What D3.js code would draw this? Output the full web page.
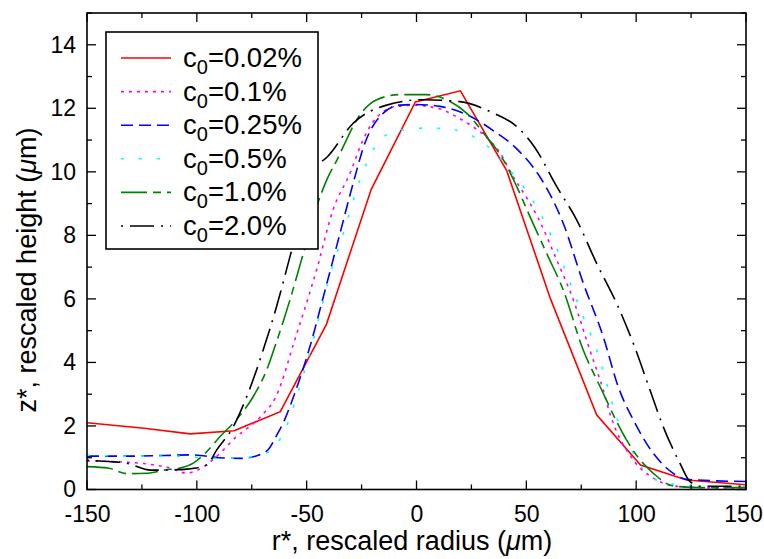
<!DOCTYPE html>
<html><head><meta charset="utf-8">
<script src="https://cdn.jsdelivr.net/npm/d3@7"></script>
<style>
html,body{margin:0;padding:0;background:#fff;}
svg{display:block;font-family:"Liberation Sans",Arial,Helvetica,sans-serif;}
</style></head>
<body><svg id="chart" width="764" height="559"></svg>
<script>
// ---- data ----
const seriesLabels = ["0.02%", "0.1%", "0.25%", "0.5%", "1.0%", "2.0%"];
const seriesColors = ["#ff0000", "#ff00ff", "#0000ff", "#00ffff", "#008000", "#000000"];
const seriesDash = ["none", "3,5", "12,6", "3,15", "26,6,8,6", "2,7,24,7"];

const r002 = [-150, -124, -103, -83, -62, -41, -20.6, -0.5, 20, 41, 61, 82, 102, 123, 150];
const z002 = [2.1, 1.93, 1.75, 1.85, 2.45, 5.2, 9.45, 12.2, 12.55, 10.05, 6.0, 2.35, 0.77, 0.3, 0.15];

const r01 = [-150, -130, -120, -112, -105, -100, -92, -82, -71, -64, -55, -45.5, -38, -30, -25, -20, -15, -10, 0, 5, 12, 18, 25, 30, 38, 44, 50, 55, 63.8, 71.4, 78.9, 85, 88, 98.7, 109.3, 120, 135, 150];
const z01 = [0.9, 0.85, 0.78, 0.67, 0.52, 0.6, 0.98, 1.66, 2.29, 2.92, 4.8, 6.91, 8.8, 10.0, 10.9, 11.55, 11.9, 12.05, 12.1, 12.06, 11.95, 11.74, 11.45, 11.2, 10.6, 9.85, 9.2, 8.6, 7.23, 5.97, 4.39, 3.13, 2.4, 0.93, 0.3, 0.09, 0.05, 0.05];

const r025 = [-150, -132, -115, -102, -90, -80, -72, -67, -64, -60, -56, -48.5, -42.4, -34.8, -29, -23.5, -15.1, -7.5, 0, 10.7, 21.3, 34.9, 46, 57, 66.8, 75.9, 85, 92, 98.7, 107.8, 116.9, 123, 150];
const z025 = [1.05, 1.05, 1.07, 1.09, 1.0, 0.98, 1.08, 1.3, 1.66, 2.2, 2.92, 4.5, 6.07, 8.07, 9.6, 10.9, 11.85, 12.1, 12.12, 12.06, 11.85, 11.3, 10.7, 9.75, 8.38, 6.5, 4.81, 3.2, 2.19, 1.14, 0.51, 0.32, 0.25];

const r05 = [-150, -130, -110, -91, -80, -70, -62, -58, -54.6, -47, -40, -33.3, -25.7, -19.7, -12.1, -3, 5, 13.7, 22.8, 30.4, 36, 42, 52, 57, 63.8, 69.9, 75.9, 82, 86.6, 90, 98.7, 104.8, 113.9, 130, 150];
const z05 = [1.08, 1.05, 1.05, 0.98, 1.0, 1.1, 1.6, 2.2, 2.92, 4.7, 6.6, 8.07, 9.75, 10.7, 11.22, 11.35, 11.38, 11.35, 11.22, 10.9, 10.6, 10.1, 9.2, 8.6, 7.6, 6.5, 5.44, 4.39, 3.34, 2.5, 1.14, 0.51, 0.2, 0.1, 0.1];

const r10 = [-150, -140, -132, -123, -114, -108, -101.6, -95.5, -89.5, -82, -75, -68, -65, -57.6, -51.5, -45.5, -40.5, -36, -33.3, -27.2, -18.1, -7.5, 4.6, 13.7, 22.8, 31.9, 36.5, 39.5, 45.6, 51.6, 59.2, 66.8, 75.9, 83.5, 95.6, 101, 107.8, 116.9, 130, 150];
const z10 = [0.72, 0.67, 0.5, 0.51, 0.62, 0.67, 0.83, 1.19, 1.66, 2.2, 2.85, 3.8, 4.39, 5.97, 7.44, 8.9, 9.8, 10.4, 10.8, 11.64, 12.27, 12.43, 12.43, 12.27, 11.85, 11.1, 10.7, 10.38, 9.54, 8.6, 7.44, 6.28, 4.39, 3.25, 1.56, 1.0, 0.51, 0.11, 0.06, 0.06];

const r20 = [-150, -140, -132, -121, -110, -104.6, -95.5, -91, -83.4, -77.3, -69.8, -63.7, -57.6, -50, -43.9, -40.9, -28.8, -13.6, 3.1, 19.8, 34.9, 45.6, 54, 63.8, 72.9, 82, 91.1, 98.7, 106.3, 112.3, 119.9, 124.5, 130, 150];
const z20 = [0.92, 0.88, 0.83, 0.61, 0.62, 0.64, 0.77, 1.24, 1.98, 2.92, 4.39, 5.76, 7.33, 9.33, 10.27, 10.45, 11.53, 12.1, 12.27, 12.21, 11.85, 11.43, 10.75, 9.54, 8.49, 7.12, 5.86, 4.6, 3.13, 1.98, 0.83, 0.25, 0.1, 0.1];

const xTicks = [-150, -100, -50, 0, 50, 100, 150];
const yTicks = [0, 2, 4, 6, 8, 10, 12, 14];
const xLabel = "r*, rescaled radius (";
const yLabel = "z*, rescaled height (";

const seriesR = [r002, r01, r025, r05, r10, r20];
const seriesZ = [z002, z01, z025, z05, z10, z20];

// ---- drawing ----
const svg = d3.select("#chart");
const L = 87, R = 746, T = 13, B = 489.5;
const x = d3.scaleLinear().domain([-150, 150]).range([L, R]);
const y = d3.scaleLinear().domain([0, 15]).range([B, T]);

svg.append("defs").append("clipPath").attr("id", "clip")
  .append("rect").attr("x", L).attr("y", T).attr("width", R - L).attr("height", B - T);

const curves = svg.append("g").attr("clip-path", "url(#clip)");
seriesR.forEach((rs, i) => {
  const pts = rs.map((r, j) => [r, seriesZ[i][j]]);
  const line = d3.line().x(d => x(d[0])).y(d => y(d[1]))
    .curve(i === 0 ? d3.curveLinear : d3.curveMonotoneX);
  curves.append("path").attr("d", line(pts))
    .attr("fill", "none").attr("stroke", seriesColors[i])
    .attr("stroke-width", 1.6)
    .attr("stroke-dasharray", seriesDash[i]);
});

// ticks (inward, mirrored)
const minorX = d3.range(-150, 151, 25);
const minorY = d3.range(0, 16, 1);
const tk = svg.append("g").attr("stroke", "#000").attr("stroke-width", 1.3);
minorX.forEach(v => {
  const len = (v % 50 === 0) ? 9 : 5;
  tk.append("line").attr("x1", x(v)).attr("x2", x(v)).attr("y1", B).attr("y2", B - len);
  tk.append("line").attr("x1", x(v)).attr("x2", x(v)).attr("y1", T).attr("y2", T + len);
});
minorY.forEach(v => {
  const len = (v % 2 === 0) ? 9 : 5;
  tk.append("line").attr("y1", y(v)).attr("y2", y(v)).attr("x1", L).attr("x2", L + len);
  tk.append("line").attr("y1", y(v)).attr("y2", y(v)).attr("x1", R).attr("x2", R - len);
});

// axes labels via d3 axis (no lines)
const xAxis = d3.axisBottom(x).tickValues(xTicks).tickSize(0).tickPadding(12)
  .tickFormat(d => String(d));
const gx = svg.append("g").attr("transform", `translate(0,${B})`).call(xAxis);
gx.select(".domain").remove();
gx.selectAll("text").attr("font-size", 23).attr("fill", "#000")
  .attr("font-family", "Liberation Sans, Arial, sans-serif").attr("dy", "0.88em");
gx.selectAll(".tick").filter(d => d === 150).select("text").attr("dx", -3);

const yAxis = d3.axisLeft(y).tickValues(yTicks).tickSize(0).tickPadding(11)
  .tickFormat(d => String(d));
const gy = svg.append("g").attr("transform", `translate(${L},0)`).call(yAxis);
gy.select(".domain").remove();
gy.selectAll("text").attr("font-size", 23).attr("fill", "#000")
  .attr("font-family", "Liberation Sans, Arial, sans-serif");

// frame
svg.append("rect").attr("x", L).attr("y", T).attr("width", R - L).attr("height", B - T)
  .attr("fill", "none").attr("stroke", "#000").attr("stroke-width", 1.6);

// axis titles
const xt = svg.append("text").attr("x", 412).attr("y", 550).attr("text-anchor", "middle")
  .attr("font-size", 27).attr("fill", "#000");
xt.append("tspan").text(xLabel);
xt.append("tspan").attr("font-style", "italic").text("\u03bc");
xt.append("tspan").text("m)");

const yt = svg.append("text").attr("transform", "translate(36,270) rotate(-90)")
  .attr("text-anchor", "middle").attr("font-size", 27).attr("fill", "#000");
yt.append("tspan").text(yLabel);
yt.append("tspan").attr("font-style", "italic").text("\u03bc");
yt.append("tspan").text("m)");

// legend
const lg = svg.append("g");
lg.append("rect").attr("x", 106).attr("y", 32).attr("width", 212).attr("height", 217)
  .attr("fill", "#fff").attr("stroke", "#000").attr("stroke-width", 1.6);
seriesLabels.forEach((lab, i) => {
  const yy = 58 + i * 33.6;
  lg.append("line").attr("x1", 121).attr("x2", 171).attr("y1", yy).attr("y2", yy)
    .attr("stroke", seriesColors[i]).attr("stroke-width", 1.6)
    .attr("stroke-dasharray", seriesDash[i]);
  const t = lg.append("text").attr("x", 183).attr("y", yy + 9).attr("font-size", 27.5).attr("fill", "#000");
  t.append("tspan").text("c");
  t.append("tspan").attr("font-size", 20).attr("dy", 7).text("0");
  t.append("tspan").attr("dy", -7).text("=" + lab);
});
</script></body></html>
